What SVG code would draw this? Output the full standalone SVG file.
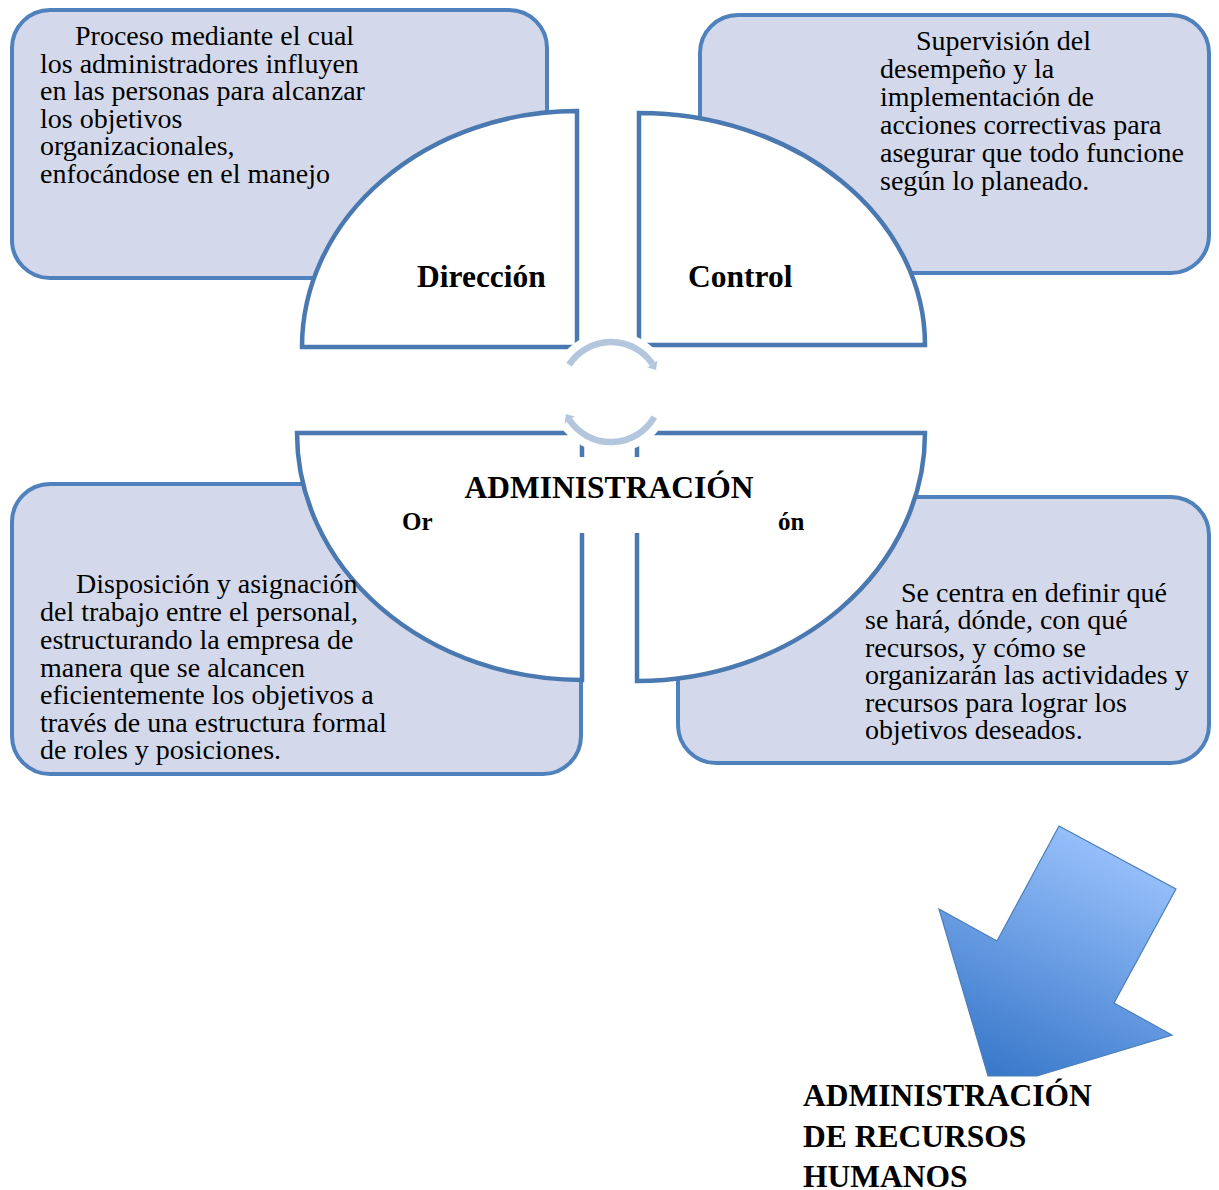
<svg xmlns="http://www.w3.org/2000/svg" width="1219" height="1190" viewBox="0 0 1219 1190">
<style>
.box{fill:#d3d9ea;stroke:#4f81bd;stroke-width:4}
.quad{fill:#ffffff;stroke:#4a78b0;stroke-width:4.5;stroke-linejoin:miter}
.txt{font-family:"Liberation Serif","Times New Roman",serif;font-size:28px;fill:#000}
.ttl{font-family:"Liberation Serif","Times New Roman",serif;font-weight:bold;fill:#000}
.halo{fill:none;stroke:#ffffff;stroke-width:22}
.cyc{fill:none;stroke:#b4c6de;stroke-width:6.5}
.cychead{fill:#b4c6de}
</style>
<defs>
<linearGradient id="arrowGrad" x1="0.75" y1="0" x2="0.3" y2="1">
<stop offset="0" stop-color="#9fc6ff"/>
<stop offset="1" stop-color="#3b7acb"/>
</linearGradient>
</defs>
<rect width="1219" height="1190" fill="#ffffff"/>

<g id="box-direccion"><rect class="box" x="12" y="10" width="535" height="268" rx="38"/></g>
<g id="box-control"><rect class="box" x="700" y="15" width="509" height="258" rx="38"/></g>
<g id="box-organizacion"><rect class="box" x="12" y="484" width="569" height="290" rx="38"/></g>
<g id="box-planificacion"><rect class="box" x="678" y="497" width="531" height="266" rx="38"/></g>

<g id="quad-direccion"><path class="quad" d="M577 111 L577 347 L302 347 A275 236 0 0 1 577 111 Z"/></g>
<g id="quad-control"><path class="quad" d="M639 113 A286 232 0 0 1 925 345 L639 345 Z"/></g>
<g id="quad-organizacion"><path class="quad" d="M297 433 L582 433 L582 680 A285 247 0 0 1 297 433 Z"/></g>
<g id="quad-planificacion"><path class="quad" d="M637 433 L925 433 A288 248 0 0 1 637 681 Z"/></g>

<g id="connectors">
<path class="halo" d="M569.1 364.8 A50 50 0 0 1 652.5 364"/>
<path class="halo" d="M654.3 417 A50 50 0 0 1 569.5 420"/>
<path class="cyc" d="M569.1 364.8 A50 50 0 0 1 652.5 364"/>
<polygon class="cychead" points="657.5,360.6 647.5,367.4 656,370"/>
<path class="cyc" d="M654.3 417 A50 50 0 0 1 569.5 420"/>
<polygon class="cychead" points="564.5,423.4 574.5,416.6 566,414"/>
<polygon points="1059,826 1176,889 1114,1003 1172,1035 1037,1076 988,1076 939,909 997,941" fill="url(#arrowGrad)" stroke="#4a7ebb" stroke-width="1.2"/>
</g>

<g id="center-admin">
<rect x="437" y="457" width="339" height="76" fill="#ffffff"/>
<text class="ttl" x="609" y="498" font-size="31.5" text-anchor="middle">ADMINISTRACIÓN</text>
</g>

<g id="label-direccion"><text class="ttl" x="417" y="287" font-size="31.5">Dirección</text></g>
<g id="label-control"><text class="ttl" x="688" y="287" font-size="31.5">Control</text></g>
<g id="label-organizacion"><text class="ttl" x="402" y="530" font-size="25">Or</text></g>
<g id="label-planificacion"><text class="ttl" x="778" y="530" font-size="25">ón</text></g>

<g id="text-direccion">
<text class="txt" x="75" y="45">Proceso mediante el cual</text>
<text class="txt" x="40" y="72.6">los administradores influyen</text>
<text class="txt" x="40" y="100.2">en las personas para alcanzar</text>
<text class="txt" x="40" y="127.8">los objetivos</text>
<text class="txt" x="40" y="155.4">organizacionales,</text>
<text class="txt" x="40" y="183">enfocándose en el manejo</text>
</g>

<g id="text-control">
<text class="txt" x="916" y="50">Supervisión del</text>
<text class="txt" x="880" y="78">desempeño y la</text>
<text class="txt" x="880" y="106">implementación de</text>
<text class="txt" x="880" y="134">acciones correctivas para</text>
<text class="txt" x="880" y="162">asegurar que todo funcione</text>
<text class="txt" x="880" y="190">según lo planeado.</text>
</g>

<g id="text-organizacion">
<text class="txt" x="76" y="593">Disposición y asignación</text>
<text class="txt" x="40" y="621">del trabajo entre el personal,</text>
<text class="txt" x="40" y="649">estructurando la empresa de</text>
<text class="txt" x="40" y="677">manera que se alcancen</text>
<text class="txt" x="40" y="704">eficientemente los objetivos a</text>
<text class="txt" x="40" y="732">través de una estructura formal</text>
<text class="txt" x="40" y="759">de roles y posiciones.</text>
</g>

<g id="text-planificacion">
<text class="txt" x="901" y="602">Se centra en definir qué</text>
<text class="txt" x="865" y="629">se hará, dónde, con qué</text>
<text class="txt" x="865" y="657">recursos, y cómo se</text>
<text class="txt" x="865" y="684">organizarán las actividades y</text>
<text class="txt" x="865" y="712">recursos para lograr los</text>
<text class="txt" x="865" y="739">objetivos deseados.</text>
</g>

<g id="title-arh">
<text class="ttl" x="803" y="1106" font-size="31.5">ADMINISTRACIÓN</text>
<text class="ttl" x="803" y="1147" font-size="31.5">DE RECURSOS</text>
<text class="ttl" x="803" y="1187" font-size="31.5">HUMANOS</text>
</g>
</svg>
